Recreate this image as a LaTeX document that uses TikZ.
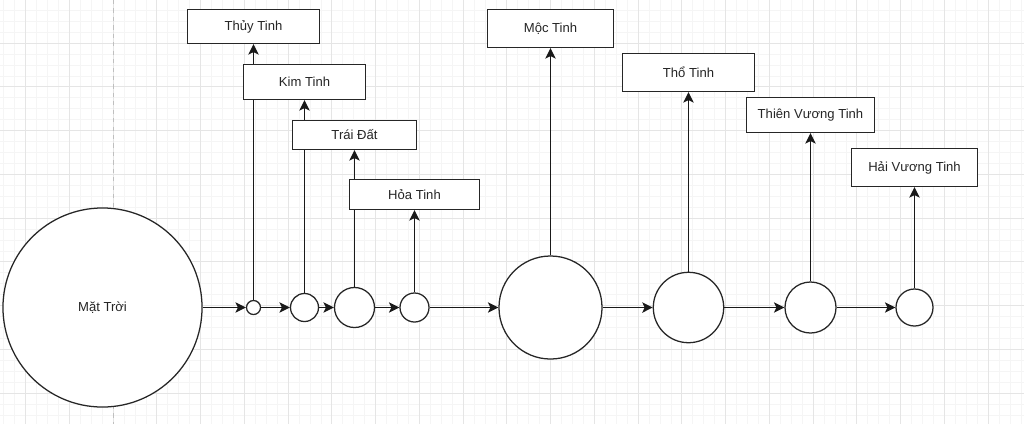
\documentclass[tikz,border=0pt]{standalone}
\usepackage{fontspec}
\setmainfont{Liberation Sans}
\usetikzlibrary{arrows.meta,positioning}
\pgfdeclarelayer{grid}
\pgfdeclarelayer{edges}
\pgfsetlayers{grid,edges,main}
\tikzset{
myplanet/.style={
  circle,
  line width=0.9pt,
  inner sep=0pt,
  draw=black!85,
  fill=white,
  text=black!85,
  font=\fontsize{9.3}{11}\selectfont,
  }
}
\tikzset{
mybox/.style={
  rectangle,
  line width=0.9pt,
  inner sep=0pt,
  draw=black!85,
  fill=white,
  text=black!85,
  font=\fontsize{9.3}{11}\selectfont,
  }
}
\tikzset{
myline/.style={
  line width=0.9pt,
  draw=black!90,
  -{Stealth[length=2.6mm,width=2.6mm,inset=0.6mm]}
  }
}

\begin{document}
\begin{tikzpicture}[x=0.025cm,y=-0.025cm]
    \useasboundingbox (0,0) rectangle (1024,424);
    \begin{pgfonlayer}{grid}
    \fill[white] (0,0) rectangle (1024,424);
    \foreach \i in {-2,...,93} \draw[black!4, line width=0.4pt] (3.6+10.9375*\i,0) -- ++(0,424);
    \foreach \i in {-1,...,39} \draw[black!4, line width=0.4pt] (0,-0.75+10.9375*\i) -- ++(1024,0);
    \foreach \i in {0,...,23} \draw[black!10, line width=0.5pt] (25.5+43.75*\i,0) -- ++(0,424);
    \foreach \i in {0,...,9} \draw[black!10, line width=0.5pt] (0,43+43.75*\i) -- ++(1024,0);
    \draw[black!25, dashed, line width=0.6pt] (113,0) -- (113,424);
    \end{pgfonlayer}

    % planets
    \node[myplanet, minimum size=4.975cm] (sun) at (102.5,307.5) {Mặt Trời};
    \node[myplanet, minimum size=0.35cm] (mer) at (253.5,307.5) {};
    \node[myplanet, minimum size=0.7cm] (ven) at (304.5,307.5) {};
    \node[myplanet, minimum size=1.0cm] (ear) at (354.5,307.5) {};
    \node[myplanet, minimum size=0.725cm] (mar) at (414.5,307.5) {};
    \node[myplanet, minimum size=2.575cm] (jup) at (550.5,307.5) {};
    \node[myplanet, minimum size=1.76cm] (sat) at (688.5,307.5) {};
    \node[myplanet, minimum size=1.275cm] (ura) at (810.5,307.5) {};
    \node[myplanet, minimum size=0.925cm] (nep) at (914.5,307.5) {};

    % names
    \node[mybox, minimum width=3.3cm, minimum height=0.85cm] (mer_lbl) at (253.5,26.5) {Thủy Tinh};
    \node[mybox, minimum width=3.05cm, minimum height=0.875cm] (ven_lbl) at (304.5,82) {Kim Tinh};
    \node[mybox, minimum width=3.1cm, minimum height=0.725cm] (ear_lbl) at (354.5,135) {Trái Đất};
    \node[mybox, minimum width=3.25cm, minimum height=0.75cm] (mar_lbl) at (414.5,194.5) {Hỏa Tinh};
    \node[mybox, minimum width=3.15cm, minimum height=0.95cm] (jup_lbl) at (550.5,28.5) {Mộc Tinh};
    \node[mybox, minimum width=3.3cm, minimum height=0.95cm] (sat_lbl) at (688.5,72.5) {Thổ Tinh};
    \node[mybox, minimum width=3.2cm, minimum height=0.875cm] (ura_lbl) at (810.5,115) {Thiên Vương Tinh};
    \node[mybox, minimum width=3.15cm, minimum height=0.95cm] (nep_lbl) at (914.5,167.5) {Hải Vương Tinh};

    \begin{pgfonlayer}{edges}
	\draw[myline] (sun) -- (mer);
	\draw[myline] (mer) -- (ven);
	\draw[myline] (ven) -- (ear);
	\draw[myline] (ear) -- (mar);
	\draw[myline] (mar) -- (jup);
	\draw[myline] (jup) -- (sat);
	\draw[myline] (sat) -- (ura);
	\draw[myline] (ura) -- (nep);
	\draw[myline] (mer) -- (mer_lbl);
	\draw[myline] (ven) -- (ven_lbl);
	\draw[myline] (ear) -- (ear_lbl);
	\draw[myline] (mar) -- (mar_lbl);
	\draw[myline] (jup) -- (jup_lbl);
	\draw[myline] (sat) -- (sat_lbl);
	\draw[myline] (ura) -- (ura_lbl);
	\draw[myline] (nep) -- (nep_lbl);
    \end{pgfonlayer}
\end{tikzpicture}
\end{document}
